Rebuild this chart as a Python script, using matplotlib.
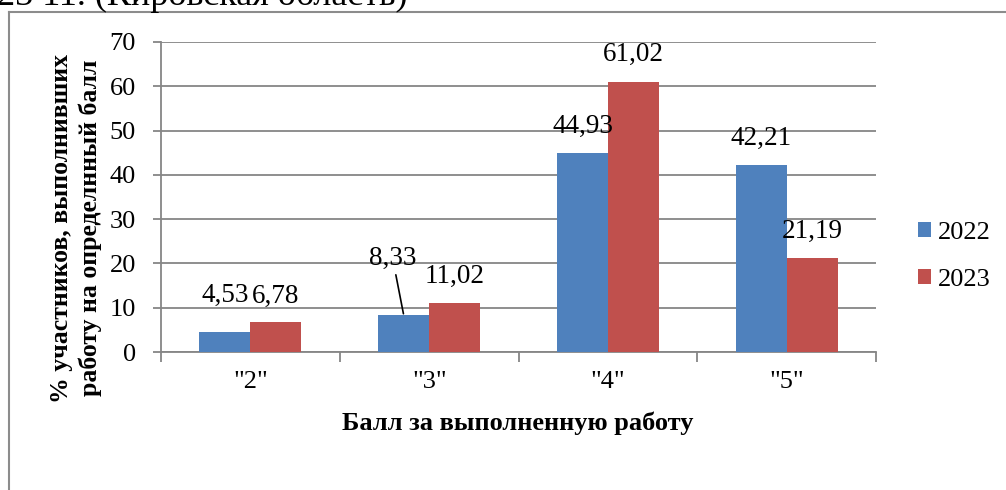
import matplotlib
matplotlib.use("Agg")
import matplotlib.pyplot as plt
import numpy as np
from matplotlib.lines import Line2D

categories = ['"2"', '"3"', '"4"', '"5"']
years = ["2022", "2023"]
values_2022 = [4.53, 8.33, 44.93, 42.21]
values_2023 = [6.78, 11.02, 61.02, 21.19]
label_2022 = ["4,53", "8,33", "44,93", "42,21"]
label_2023 = ["6,78", "11,02", "61,02", "21,19"]
yticks = [0, 10, 20, 30, 40, 50, 60, 70]

plt.rcParams['font.family'] = ['Liberation Serif', 'DejaVu Serif']

W, H = 1006, 490
fig = plt.figure(figsize=(W / 100, H / 100), dpi=100)
ax = fig.add_axes([0.160, 0.2816, 0.711, 0.6327])

blue = "#4F81BD"
red = "#C0504D"
grid_c = "#868686"

x = np.arange(len(categories))
w = 0.285
b1 = ax.bar(x - w / 2, values_2022, w, color=blue, label=years[0], zorder=3)
b2 = ax.bar(x + w / 2, values_2023, w, color=red, label=years[1], zorder=3)

ax.set_xlim(-0.5, len(categories) - 0.5)
ax.set_ylim(0, 70)
ax.set_yticks(yticks)
ax.set_yticklabels([str(t) for t in yticks])
ax.yaxis.grid(True, color=grid_c, linewidth=1.3, zorder=0)
ax.set_axisbelow(True)

for s in ["top", "right"]:
    ax.spines[s].set_visible(False)
for s in ["left", "bottom"]:
    ax.spines[s].set_color(grid_c)
    ax.spines[s].set_linewidth(1.3)

ax.set_xticks(np.arange(len(categories) + 1) - 0.5, minor=False)
ax.set_xticklabels([])
ax.set_xticks(x, minor=True)
ax.set_xticklabels(categories, minor=True)
ax.tick_params(axis="x", which="major", length=7, color=grid_c, width=1.3)
ax.tick_params(axis="x", which="minor", length=0, labelsize=19, pad=14)
ax.tick_params(axis="y", length=6, color=grid_c, width=1.3, labelsize=19, pad=12)

# data labels
fs = 19.5
offsets_2022 = [(0, 26), (-8, 41), (0, 19.5), (0, 19.5)]
offsets_2023 = [(0, 18.5), (0, 19.5), (0, 19.5), (0, 19.5)]
for i, v in enumerate(values_2022):
    dx, dy = offsets_2022[i]
    if i == 1:
        ax.annotate(label_2022[i], xy=(x[i] - w / 2, v), xytext=(dx, dy),
                    textcoords="offset points", ha="center", va="center",
                    fontsize=fs, zorder=5,
                    arrowprops=dict(arrowstyle="-", color="black", lw=1.2,
                                    shrinkA=1, shrinkB=1))
    else:
        ax.annotate(label_2022[i], xy=(x[i] - w / 2, v), xytext=(dx, dy),
                    textcoords="offset points", ha="center", va="center",
                    fontsize=fs, zorder=5)
for i, v in enumerate(values_2023):
    dx, dy = offsets_2023[i]
    ax.annotate(label_2023[i], xy=(x[i] + w / 2, v), xytext=(dx, dy),
                textcoords="offset points", ha="center", va="center",
                fontsize=fs, zorder=5)

# axis titles
fig.text(518 / W, 1 - 423 / H, "Балл за выполненную работу", fontsize=19,
         fontweight="bold", ha="center", va="center")
fig.text(76 / W, 1 - 228 / H, "% участников, выполнивших\nработу на определнный балл",
         fontsize=18.5, fontweight="bold", ha="center", va="center",
         rotation=90, multialignment="center", linespacing=1.25)

leg = fig.legend(handles=[b1, b2], labels=years, loc="center left",
                 bbox_to_anchor=(0.9125, 0.477), frameon=False, fontsize=19,
                 handlelength=0.5, handleheight=0.5, handletextpad=0.25,
                 labelspacing=0.95, borderaxespad=0, borderpad=0)

# outer frame (partially visible)
fig.add_artist(Line2D([9 / W, 9 / W], [0, 1 - 12 / H],
                      transform=fig.transFigure, color="#8c8c8c", lw=1.5))
fig.add_artist(Line2D([9 / W, 1], [1 - 12 / H, 1 - 12 / H],
                      transform=fig.transFigure, color="#8c8c8c", lw=1.5))

# cropped heading above
fig.text(-3 / W, 1 - 5 / H, "23 11. (Кировская область)", fontsize=26,
         ha="left", va="baseline")

fig.savefig("out.png", dpi=100)
